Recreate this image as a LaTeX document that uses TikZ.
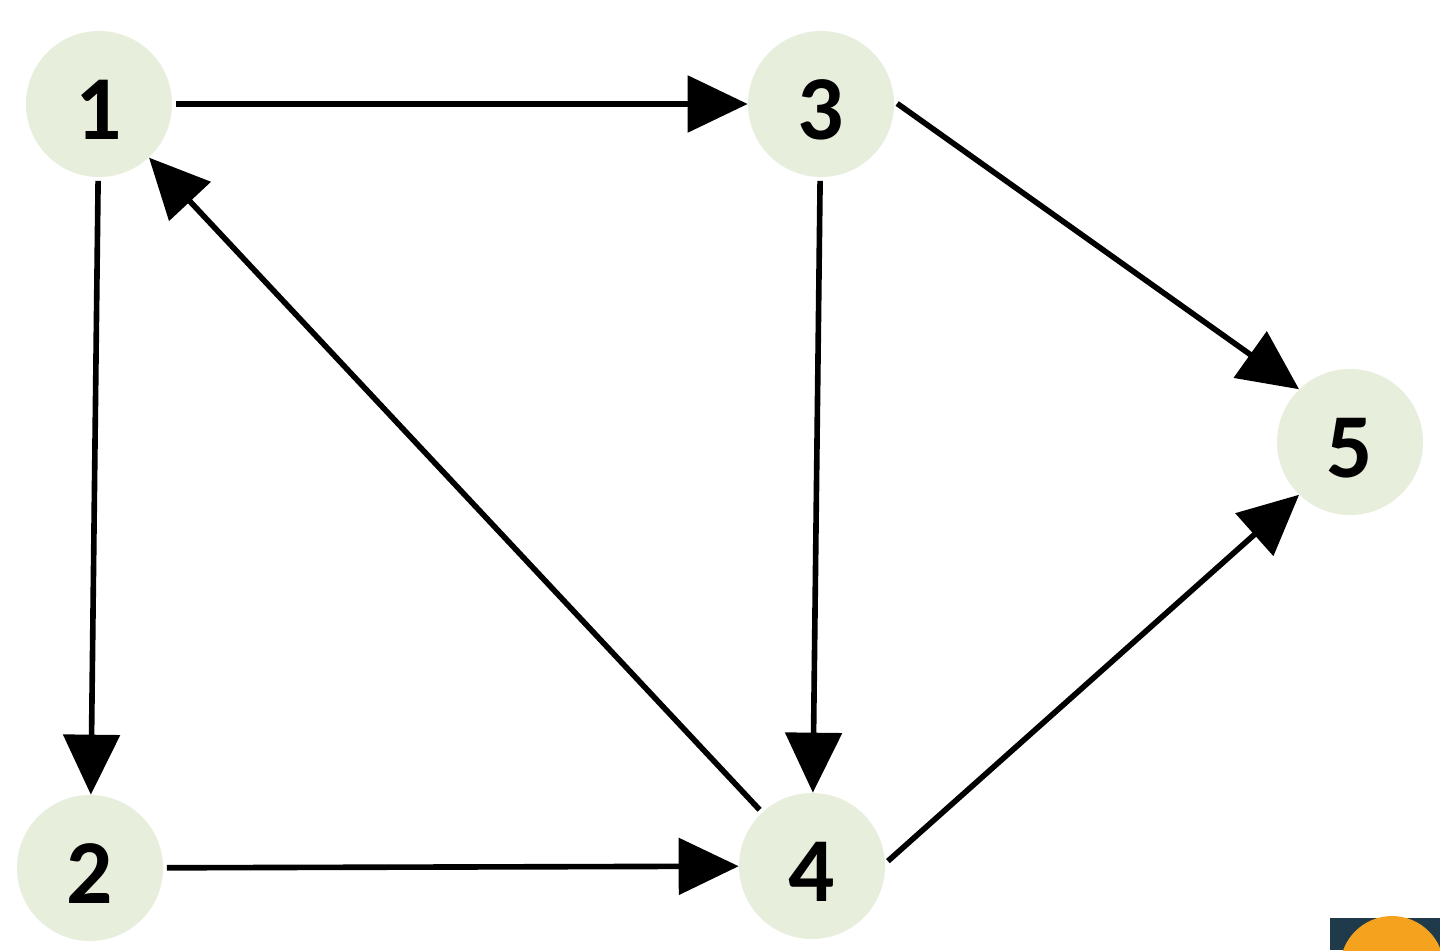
\documentclass[tikz,border=0pt]{standalone}
\usepackage{fontspec}
\setmainfont{Carlito}
\usetikzlibrary{arrows.meta}
\definecolor{nodefill}{HTML}{E7EEDC}
\definecolor{badgebg}{HTML}{1F3A4A}
\definecolor{badgeorange}{HTML}{F5A31E}
\begin{document}
\begin{tikzpicture}[x=0.02cm,y=-0.02cm,
  vertex/.style={circle,fill=nodefill,minimum size=2.92cm,inner sep=0pt,
    text height=40pt,text depth=0pt,
    font=\fontsize{52}{62}\selectfont\bfseries},
  edge/.style={line width=3.2pt,-{Triangle[length=1.2cm,width=1.12cm]},shorten <=2pt}]
\useasboundingbox (0,0) rectangle (1440,950);
\fill[white] (0,0) rectangle (1440,950);
% corner badge
\begin{scope}
\clip (0,0) rectangle (1440,950);
\fill[badgebg] (1330,918) rectangle (1440,950);
\fill[badgeorange] (1392,968) circle (52);
\end{scope}
\node[vertex] (n1) at (99,104) {1};
\node[vertex] (n3) at (821,104) {3};
\node[vertex] (n5) at (1350,442) {5};
\node[vertex] (n2) at (90,868) {2};
\node[vertex] (n4) at (812,866) {4};
\draw[edge] (n1) -- (n3);
\draw[edge] (n1) -- (n2);
\draw[edge] (n4.133) -- (n1.313);
\draw[edge] (n3) -- (n4);
\draw[edge] (n3.2) -- (n5.134);
\draw[edge] (n4.2) -- (n5.226);
\draw[edge] (n2) -- (n4);
\end{tikzpicture}
\end{document}
